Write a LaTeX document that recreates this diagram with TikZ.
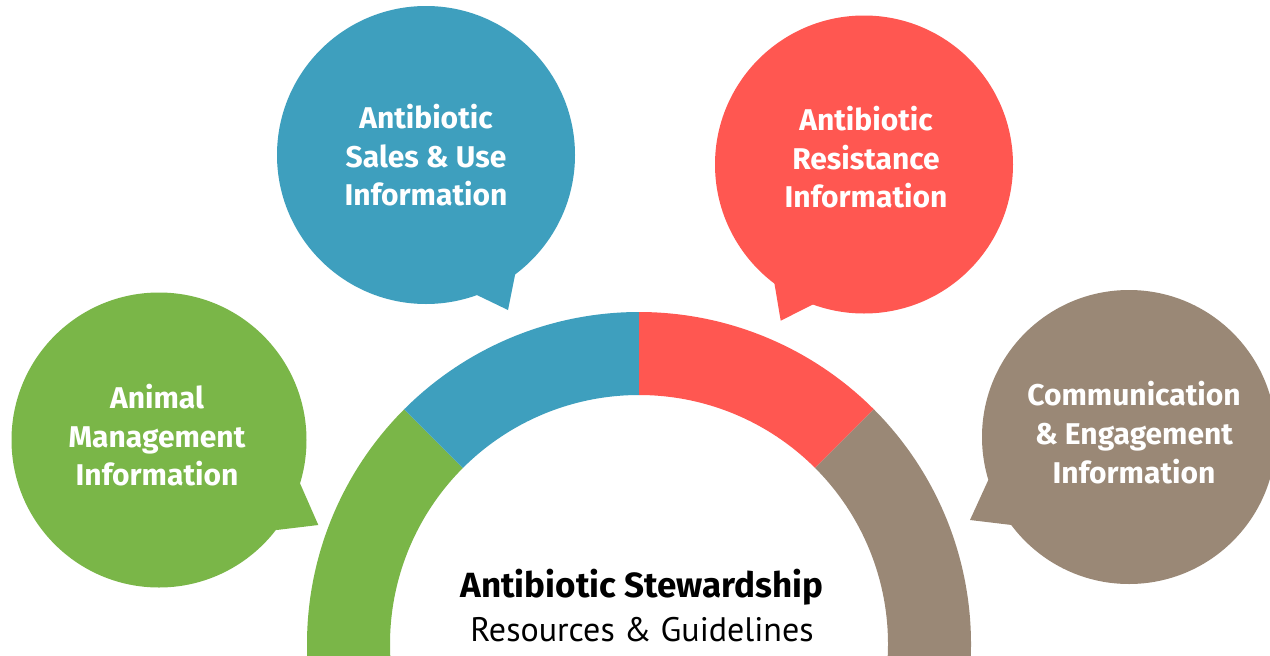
\documentclass[tikz,border=0pt]{standalone}
\usepackage{fontspec}
\newfontfamily\bfont{PT Sans}
\newfontfamily\ffont{Fira Sans}
\usetikzlibrary{calc}
\definecolor{cgreen}{RGB}{122,182,72}
\definecolor{cblue}{RGB}{62,159,190}
\definecolor{cred}{RGB}{255,87,81}
\definecolor{cbrown}{RGB}{154,136,118}
\tikzset{
  bubble/.style={circle, inner sep=0pt, minimum size=#1},
  btext/.style={text=white, anchor=base, inner sep=0pt, font=\ffont\bfseries\fontsize{30}{35}\selectfont},
  ctitle/.style={text=black, anchor=base, inner sep=0pt, font=\ffont\bfseries\fontsize{35}{40}\selectfont},
  csub/.style={text=black, anchor=base, inner sep=0pt, font=\bfont\fontsize{34}{40}\selectfont},
}
\begin{document}
\begin{tikzpicture}[x=1pt,y=-1pt]
\useasboundingbox (0,0) rectangle (1270,656);
\clip (0,0) rectangle (1270,656);
\fill[white] (0,0) rectangle (1270,656);
% ring
\coordinate (c) at (639,644);
\def\Ro{332}
\def\Ri{249}
\fill[cgreen] ($(c)+(170:\Ro)$) arc[start angle=170,end angle=225,radius=\Ro] -- ($(c)+(225:\Ri)$) arc[start angle=225,end angle=170,radius=\Ri] -- cycle;
\fill[cblue] ($(c)+(225:\Ro)$) arc[start angle=225,end angle=270,radius=\Ro] -- ($(c)+(270:\Ri)$) arc[start angle=270,end angle=225,radius=\Ri] -- cycle;
\fill[cred] ($(c)+(270:\Ro)$) arc[start angle=270,end angle=315,radius=\Ro] -- ($(c)+(315:\Ri)$) arc[start angle=315,end angle=270,radius=\Ri] -- cycle;
\fill[cbrown] ($(c)+(315:\Ro)$) arc[start angle=315,end angle=370,radius=\Ro] -- ($(c)+(370:\Ri)$) arc[start angle=370,end angle=315,radius=\Ri] -- cycle;
% bubbles
\node[bubble=298pt, fill=cblue] (blue) at (426,155) {};
\coordinate (blueA) at (516.7,266.7);
\coordinate (blueT) at (508,310);
\coordinate (blueB) at (470,291.7);
\fill[cblue] (blueA) -- (blueT) -- (blueB) -- (blue.center) -- cycle;

\node[bubble=298pt, fill=cred] (red) at (864,164.5) {};
\coordinate (redA) at (773.3,276.7);
\coordinate (redT) at (780.7,320.7);
\coordinate (redB) at (818.3,301.7);
\fill[cred] (redA) -- (redT) -- (redB) -- (red.center) -- cycle;

\node[bubble=295pt, fill=cgreen] (green) at (159,440) {};
\coordinate (greenA) at (300,483.3);
\coordinate (greenT) at (318.3,525);
\coordinate (greenB) at (276.7,530);
\fill[cgreen] (greenA) -- (greenT) -- (greenB) -- (green.center) -- cycle;

\node[bubble=294pt, fill=cbrown] (brown) at (1129,437) {};
\coordinate (brownA) at (988.3,480);
\coordinate (brownT) at (970,520);
\coordinate (brownB) at (1011.7,525);
\fill[cbrown] (brownA) -- (brownT) -- (brownB) -- (brown.center) -- cycle;
% bubble texts
\node[btext] (blue1) at (426,128) {Antibiotic};
\node[btext] (blue2) at (426,167) {Sales \& Use};
\node[btext] (blue3) at (426,205) {Information};
\node[btext] (red1) at (866,130) {Antibiotic};
\node[btext] (red2) at (866,169) {Resistance};
\node[btext] (red3) at (866,207) {Information};
\node[btext] (green1) at (157,408) {Animal};
\node[btext] (green2) at (157,447) {Management};
\node[btext] (green3) at (157,485) {Information};
\node[btext] (brown1) at (1134,405) {Communication};
\node[btext] (brown2) at (1134,444) {\& Engagement};
\node[btext] (brown3) at (1134,483) {Information};
% centre
\node[ctitle] (title) at (642,597) {Antibiotic Stewardship};
\node[csub] (sub) at (642,641) {Resources \& Guidelines};
\end{tikzpicture}
\end{document}
